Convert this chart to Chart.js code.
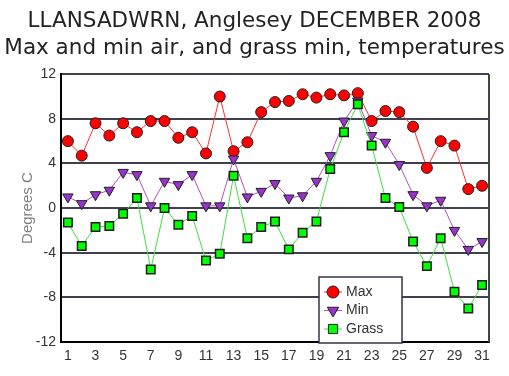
<!DOCTYPE html>
<html>
<head>
<meta charset="utf-8">
<script src="https://cdn.jsdelivr.net/npm/chart.js@4.4.1/dist/chart.umd.min.js"></script>
<style>
  html, body { margin: 0; padding: 0; background: #fff; }
  #wrap { width: 509px; height: 376px; }
</style>
</head>
<body>
<div id="wrap"><canvas id="temps"></canvas></div>
<script>
// December 2008, daily values
const days = ['1','2','3','4','5','6','7','8','9','10','11','12','13','14','15','16',
              '17','18','19','20','21','22','23','24','25','26','27','28','29','30','31'];
const maxTemp = [6.0, 4.7, 7.6, 6.5, 7.6, 6.8, 7.8, 7.8, 6.3, 6.8, 4.9, 10.0, 5.1, 5.9, 8.6, 9.5,
                 9.6, 10.2, 9.9, 10.2, 10.1, 10.3, 7.8, 8.7, 8.6, 7.3, 3.6, 6.0, 5.6, 1.7, 2.0];
const minTemp = [1.0, 0.4, 1.2, 1.6, 3.2, 3.0, 0.2, 2.4, 2.1, 3.0, 0.2, 0.2, 4.4, 1.0, 1.5, 2.2,
                 0.9, 1.1, 2.4, 4.7, 7.8, 9.6, 6.5, 5.9, 3.9, 1.2, 0.2, 0.7, -2.0, -3.7, -3.0];
const grassMin = [-1.3, -3.4, -1.7, -1.6, -0.5, 0.9, -5.5, 0.0, -1.5, -0.7, -4.7, -4.1, 2.9, -2.7, -1.7, -1.2,
                  -3.7, -2.2, -1.2, 3.5, 6.8, 9.3, 5.6, 0.9, 0.1, -3.0, -5.2, -2.7, -7.5, -9.0, -6.9];
const yTicks = [-12, -8, -4, 0, 4, 8, 12];

// legend box sits inside the plot, bottom right
const boxLegend = {
    id: 'boxLegend',
    afterDraw(chart) {
        const ctx = chart.ctx;
        const x = 319, y = 277, w = 83, h = 66;
        ctx.save();
        ctx.fillStyle = '#fff';
        ctx.fillRect(x, y, w, h);
        ctx.strokeStyle = '#33334a';
        ctx.lineWidth = 1.5;
        ctx.strokeRect(x, y, w, h);
        chart.data.datasets.forEach((ds, i) => {
            const cy = y + 15 + i * 18.5;
            ctx.strokeStyle = ds.borderColor;
            ctx.lineWidth = 1;
            ctx.beginPath();
            ctx.moveTo(x + 5, cy);
            ctx.lineTo(x + 23, cy);
            ctx.stroke();
            ctx.fillStyle = ds.pointBackgroundColor;
            ctx.strokeStyle = ds.pointBorderColor;
            ctx.lineWidth = 1;
            Chart.helpers.drawPoint(ctx, {
                pointStyle: ds.pointStyle,
                rotation: ds.pointRotation || 0,
                radius: ds.pointRadius + 0.5,
                borderWidth: 1
            }, x + 14, cy);
            ctx.fillStyle = '#333';
            ctx.font = '14px "Liberation Sans"';
            ctx.textBaseline = 'middle';
            ctx.fillText(ds.label, x + 27, cy);
        });
        ctx.restore();
    }
};

// right hand edge of the plot frame
const frame = {
    id: 'frame',
    beforeDatasetsDraw(chart) {
        const a = chart.chartArea, ctx = chart.ctx;
        ctx.save();
        ctx.strokeStyle = '#3a4a3a';
        ctx.lineWidth = 2;
        ctx.beginPath();
        ctx.moveTo(a.right, a.top);
        ctx.lineTo(a.right, a.bottom);
        ctx.stroke();
        ctx.restore();
    }
};

const temps = document.getElementById('temps').getContext('2d');
const tempChart = new Chart(temps, {
    type: 'line',
    data: {
        labels: days,
        datasets: [
            {
                label: 'Max',
                data: maxTemp,
                borderColor: '#ff3030',
                borderWidth: 1,
                pointStyle: 'circle',
                pointRadius: 5.5,
                pointBackgroundColor: '#ff0000',
                pointBorderColor: '#202020',
                pointBorderWidth: 1,
                order: 3,
            },
            {
                label: 'Min',
                data: minTemp,
                borderColor: '#b050c0',
                borderWidth: 1,
                pointStyle: 'triangle',
                pointRotation: 180,
                pointRadius: 6,
                pointBackgroundColor: '#9933cc',
                pointBorderColor: '#202020',
                pointBorderWidth: 1,
                order: 2,
            },
            {
                label: 'Grass',
                data: grassMin,
                borderColor: '#40dd40',
                borderWidth: 1,
                pointStyle: 'rect',
                pointRadius: 6,
                pointBackgroundColor: '#00ff00',
                pointBorderColor: '#202020',
                pointBorderWidth: 1.5,
                order: 1,
            },
        ],
    },
    options: {
        responsive: true,
        maintainAspectRatio: false,
        animation: false,
        events: [],
        layout: { padding: 0 },
        plugins: {
            legend: { display: false },
            tooltip: { enabled: false },
            title: {
                display: true,
                text: ['LLANSADWRN, Anglesey DECEMBER 2008', 'Max and min air, and grass min, temperatures'],
                color: '#222',
                font: { family: 'DejaVu Sans', size: 21.5, weight: 'normal', lineHeight: 1.26 },
                padding: { top: 8, bottom: 12 },
            },
        },
        scales: {
            x: {
                offset: true,
                grid: { display: false, drawTicks: false },
                border: { color: '#000', width: 2 },
                ticks: {
                    autoSkip: false,
                    maxRotation: 0,
                    padding: 6,
                    color: '#333',
                    font: { family: 'Liberation Sans', size: 14 },
                    callback: (v, i) => (i % 2 === 0 ? days[i] : ''),
                },
                afterFit: s => { s.height = 34; },
            },
            y: {
                min: -12,
                max: 12,
                afterBuildTicks: s => { s.ticks = yTicks.map(v => ({ value: v })); },
                grid: { color: '#404050', lineWidth: 2, drawTicks: false },
                border: { color: '#000', width: 2 },
                ticks: {
                    padding: 5,
                    color: '#333',
                    font: { family: 'Liberation Sans', size: 14 },
                },
                title: {
                    display: true,
                    text: 'Degrees C',
                    color: '#808080',
                    font: { family: 'Liberation Sans', size: 15 },
                    padding: { top: 19, bottom: 0 },
                },
                afterFit: s => { s.width = 61; },
            },
            // empty strip on the right so the plot stops short of the edge
            spacer: {
                type: 'linear',
                position: 'right',
                grid: { display: false, drawTicks: false },
                border: { display: false },
                ticks: { display: false },
                afterFit: s => { s.width = 20; },
            },
        },
    },
    plugins: [frame, boxLegend],
});
</script>
</body>
</html>
